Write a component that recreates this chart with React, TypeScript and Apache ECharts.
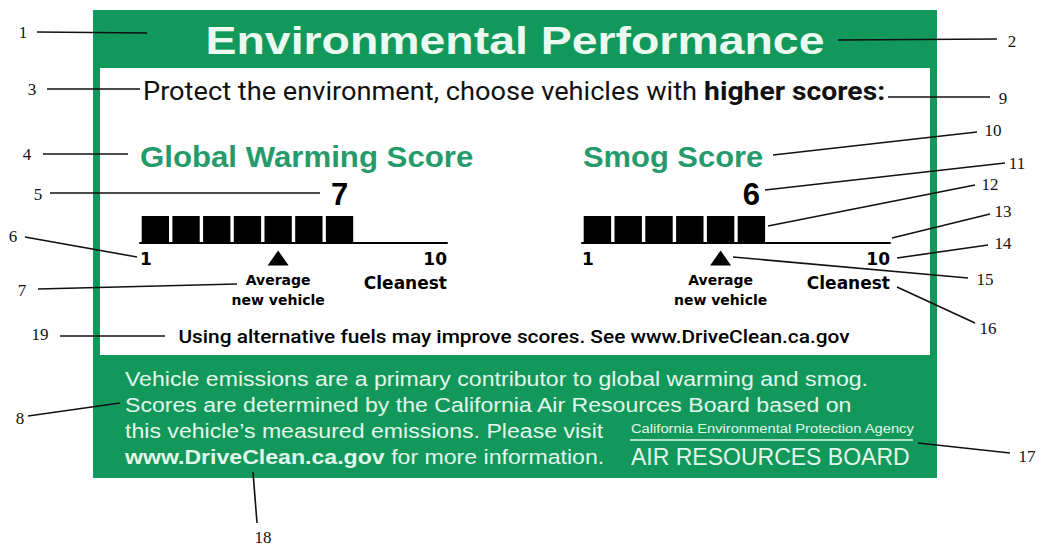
import React, { useEffect, useRef } from "react";
import * as echarts from "echarts";

// ---------- data ----------
const scoreCategories = ["1", "2", "3", "4", "5", "6", "7", "8", "9", "10"];
const gwScore = 7;
const smogScore = 6;
const gwAverage = "5";
const smogAverage = "5";
const tickLabels = ["1", "10"];
const cleanestLabel = "Cleanest";
const averageLabel = ["Average", "new vehicle"];
const titleText = "Environmental Performance";
const protectText = ["Protect the environment, choose vehicles with ", "higher scores:"];
const gwTitle = "Global Warming Score";
const smogTitle = "Smog Score";
const altFuelText = "Using alternative fuels may improve scores. See www.DriveClean.ca.gov";
const infoLines = [
  "Vehicle emissions are a primary contributor to global warming and smog.",
  "Scores are determined by the California Air Resources Board based on",
  "this vehicle\u2019s measured emissions. Please visit",
];
const infoLastLine = ["www.DriveClean.ca.gov", " for more information."];
const agencyText = "California Environmental Protection Agency";
const boardText = "AIR RESOURCES BOARD";

// callouts: number, line start, line end, label position (layout)
const callouts: [string, number, number, number, number, number, number][] = [
  ["1", 37, 32, 147, 33, 23, 32],
  ["2", 838, 40, 997, 39, 1012, 41],
  ["3", 47, 89, 140, 89, 32, 89],
  ["4", 43, 154, 128, 154, 27, 154],
  ["5", 50, 193, 320, 193, 38, 194],
  ["6", 25, 237, 137, 257, 13, 236],
  ["7", 38, 289, 237, 284, 22, 290],
  ["8", 28, 416, 120, 403, 20, 418],
  ["9", 888, 97, 990, 97, 1003, 98],
  ["10", 773, 155, 977, 132, 993, 130],
  ["11", 765, 190, 1005, 163, 1017, 163],
  ["12", 768, 226, 975, 185, 990, 184],
  ["13", 892, 238, 990, 214, 1003, 211],
  ["14", 897, 258, 988, 245, 1003, 243],
  ["15", 733, 257, 968, 278, 985, 279],
  ["16", 897, 287, 975, 323, 988, 328],
  ["17", 918, 443, 1010, 453, 1027, 456],
  ["18", 253, 472, 257, 523, 263, 537],
  ["19", 60, 336, 165, 336, 40, 334],
];

const GREEN = "#12985a";
const TITLE_GREEN = "#259b6b";
const MINT = "#e2f7ec";

function scoreBar(score: number, gridIdx: number) {
  return {
    type: "bar",
    xAxisIndex: gridIdx * 2,
    yAxisIndex: gridIdx,
    barCategoryGap: "11%",
    silent: true,
    z: 3,
    itemStyle: { color: "#000" },
    label: {
      show: false,
      position: "top",
      distance: 6,
      formatter: () => String(score),
      fontFamily: "Liberation Sans",
      fontWeight: "bold",
      fontSize: 31,
      color: "#000",
    },
    data: scoreCategories.map((c, i) =>
      i < score ? { value: 1, label: { show: i === score - 1 } } : "-"
    ),
  };
}

function avgMarker(avg: string, gridIdx: number) {
  return {
    type: "scatter",
    xAxisIndex: gridIdx * 2,
    yAxisIndex: gridIdx,
    clip: false,
    silent: true,
    z: 3,
    symbol: "triangle",
    symbolSize: [21, 15],
    symbolOffset: [0, 15],
    itemStyle: { color: "#000", opacity: 1 },
    label: {
      show: true,
      position: "bottom",
      distance: 4,
      formatter: averageLabel.join("\n"),
      fontFamily: "DejaVu Sans",
      fontWeight: "bold",
      fontSize: 14,
      lineHeight: 20,
      color: "#000",
    },
    data: [[avg, 0]],
  };
}

function valueAxis(gridIdx: number) {
  return {
    type: "value",
    gridIndex: gridIdx,
    position: "bottom",
    z: 10,
    min: 0,
    max: 10,
    interval: 10,
    axisLine: { show: true, onZero: false, lineStyle: { color: "#000", width: 2 } },
    axisTick: { show: false },
    splitLine: { show: false },
    axisLabel: {
      show: true,
      margin: 4,
      showMinLabel: true,
      showMaxLabel: true,
      alignMinLabel: "left",
      alignMaxLabel: "right",
      formatter: (v: number) =>
        v === 0 ? `{n|${tickLabels[0]}}` : `{n|${tickLabels[1]}}\n{n|${cleanestLabel}}`,
      rich: {
        n: {
          fontFamily: "DejaVu Sans",
          fontWeight: "bold",
          fontSize: 17,
          lineHeight: 24,
          color: "#000",
          align: "right",
        },
      },
    },
  };
}

function buildGraphic() {
  const els: any[] = [];
  els.push({ type: "rect", shape: { x: 93, y: 10, width: 844, height: 468 }, style: { fill: GREEN }, z: -10 });
  els.push({ type: "rect", shape: { x: 100, y: 68, width: 830, height: 287 }, style: { fill: "#fff" }, z: -9 });
  els.push({
    type: "text", x: 515, y: 40, z: 5, scaleX: 1.19,
    style: { text: titleText, fill: "#eafaf1", fontFamily: "Liberation Sans", fontWeight: "bold", fontSize: 39, textAlign: "center", textVerticalAlign: "middle" },
  });
  els.push({
    type: "text", x: 143, y: 91, z: 5, scaleX: 1.088,
    style: {
      text: `{a|${protectText[0]}}{b|${protectText[1]}}`,
      textVerticalAlign: "middle",
      rich: {
        a: { fontFamily: "Roboto", fontSize: 25, fill: "#111", color: "#111" },
        b: { fontFamily: "Roboto", fontWeight: "bold", fontSize: 26, fill: "#111", color: "#111" },
      },
    },
  });
  els.push({
    type: "text", x: 140, y: 156, z: 5, scaleX: 1.04,
    style: { text: gwTitle, fill: TITLE_GREEN, fontFamily: "Liberation Sans", fontWeight: "bold", fontSize: 30, textVerticalAlign: "middle" },
  });
  els.push({
    type: "text", x: 583, y: 156, z: 5, scaleX: 1.03,
    style: { text: smogTitle, fill: TITLE_GREEN, fontFamily: "Liberation Sans", fontWeight: "bold", fontSize: 30, textVerticalAlign: "middle" },
  });
  els.push({
    type: "text", x: 514, y: 336, z: 5, scaleX: 1.098,
    style: { text: altFuelText, fill: "#000", fontFamily: "Roboto", fontWeight: 500, fontSize: 19, textAlign: "center", textVerticalAlign: "middle" },
  });
  infoLines.forEach((t, i) => {
    els.push({
      type: "text", x: 125, y: 379 + i * 26, z: 5, scaleX: 1.1,
      style: { text: t, fill: MINT, fontFamily: "Liberation Sans", fontSize: 21, textVerticalAlign: "middle" },
    });
  });
  els.push({
    type: "text", x: 125, y: 457, z: 5, scaleX: 1.1,
    style: {
      text: `{a|${infoLastLine[0]}}{b|${infoLastLine[1]}}`,
      textVerticalAlign: "middle",
      rich: {
        a: { fontFamily: "Liberation Sans", fontWeight: "bold", fontSize: 21, fill: MINT, color: MINT },
        b: { fontFamily: "Liberation Sans", fontSize: 21, fill: MINT, color: MINT },
      },
    },
  });
  els.push({
    type: "text", x: 631, y: 428, z: 5, scaleX: 1.09,
    style: { text: agencyText, fill: MINT, fontFamily: "Liberation Sans", fontSize: 13.5, textVerticalAlign: "middle" },
  });
  els.push({ type: "line", z: 5, shape: { x1: 630, y1: 440, x2: 913, y2: 440 }, style: { stroke: MINT, lineWidth: 1.5 } });
  els.push({
    type: "text", x: 631, y: 457, z: 5,
    style: { text: boardText, fill: MINT, fontFamily: "Liberation Sans", fontSize: 23, textVerticalAlign: "middle" },
  });
  callouts.forEach(([n, x1, y1, x2, y2, tx, ty]) => {
    els.push({ type: "line", z: 100, shape: { x1, y1, x2, y2 }, style: { stroke: "#111", lineWidth: 1.6 } });
    els.push({
      type: "text", x: tx, y: ty, z: 100,
      style: { text: n, fill: "#111", fontFamily: "Liberation Serif", fontSize: 17, textAlign: "center", textVerticalAlign: "middle" },
    });
  });
  return els;
}

export default function App() {
  const ref = useRef<HTMLDivElement>(null);
  useEffect(() => {
    if (!ref.current) return;
    const chart = echarts.init(ref.current, undefined, { renderer: "svg" });
    chart.setOption({
      animation: false,
      backgroundColor: "#fff",
      grid: [
        { left: 140, top: 216, width: 307, height: 27 },
        { left: 582, top: 216, width: 308, height: 27 },
      ],
      xAxis: [
        { type: "category", gridIndex: 0, position: "bottom", data: scoreCategories, show: false },
        valueAxis(0),
        { type: "category", gridIndex: 1, position: "bottom", data: scoreCategories, show: false },
        valueAxis(1),
      ],
      yAxis: [
        { type: "value", gridIndex: 0, min: 0, max: 1, show: false },
        { type: "value", gridIndex: 1, min: 0, max: 1, show: false },
      ],
      graphic: { elements: buildGraphic() },
      series: [scoreBar(gwScore, 0), scoreBar(smogScore, 1), avgMarker(gwAverage, 0), avgMarker(smogAverage, 1)],
    });
    return () => chart.dispose();
  }, []);
  return <div ref={ref} style={{ position: "fixed", left: 0, top: 0, width: 1050, height: 545 }} />;
}
